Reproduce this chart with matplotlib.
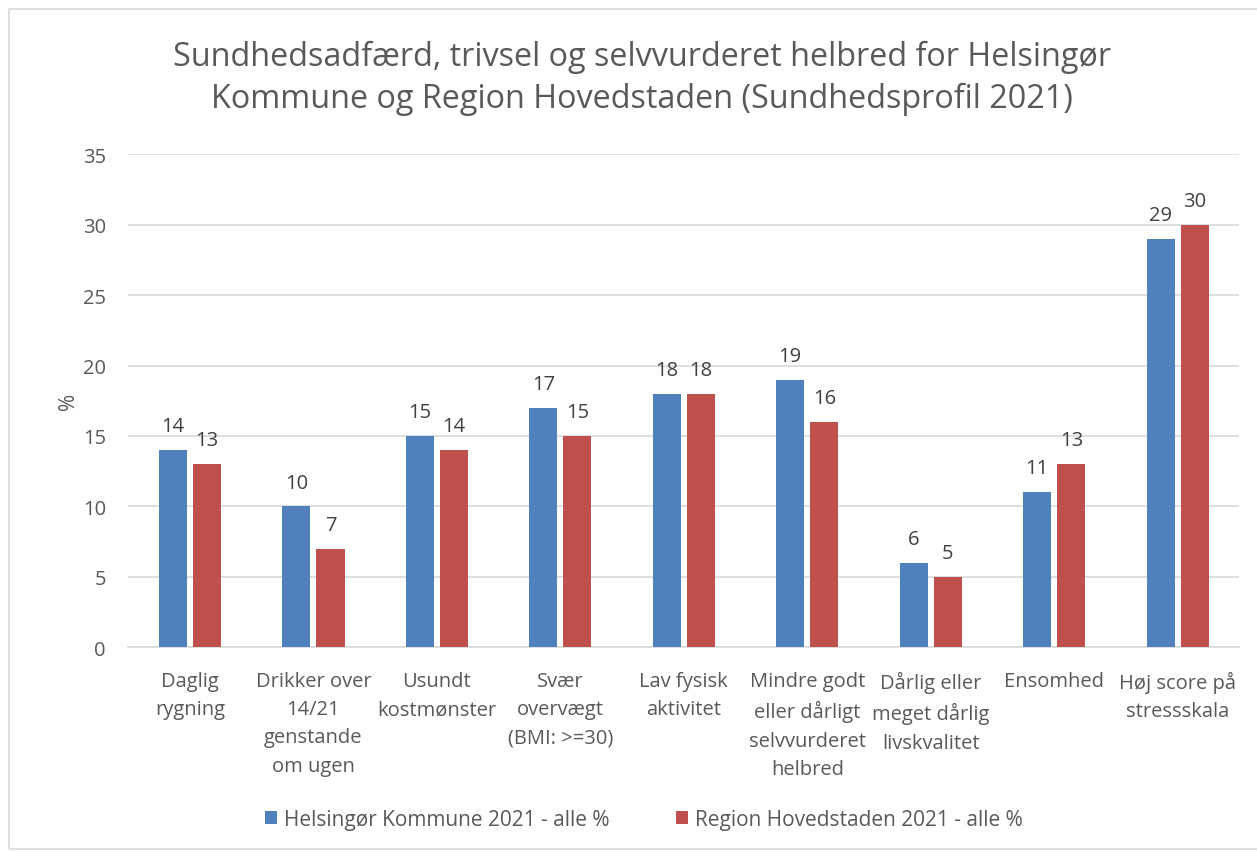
import matplotlib.pyplot as plt
import numpy as np

plt.rcParams['font.family'] = ['Open Sans', 'DejaVu Sans']

categories = ["Daglig\nrygning", "Drikker over\n14/21\ngenstande\nom ugen",
              "Usundt\nkostmønster", "Svær\novervægt\n(BMI: >=30)",
              "Lav fysisk\naktivitet", "Mindre godt\neller dårligt\nselvvurderet\nhelbred",
              "Dårlig eller\nmeget dårlig\nlivskvalitet", "Ensomhed",
              "Høj score på\nstressskala"]
helsingor = [14, 10, 15, 17, 18, 19, 6, 11, 29]
region = [13, 7, 14, 15, 18, 16, 5, 13, 30]
series_names = ["Helsingør Kommune 2021 - alle %", "Region Hovedstaden 2021 - alle %"]

blue = "#4F81BD"
red = "#C0504D"
txt = "#595959"

fig = plt.figure(figsize=(12.57, 8.53), dpi=100)
ax = fig.add_axes([0.102, 0.240, 0.884, 0.578])

# light frame round the chart
fig.patches.append(plt.Rectangle((0.007, 0.003), 1.0, 0.985, transform=fig.transFigure,
                                 fill=False, edgecolor="#D9D9D9", linewidth=1.2))

x = np.arange(len(categories))
w = 0.227
gap = 0.05
b1 = ax.bar(x - (w + gap) / 2, helsingor, w, color=blue, label=series_names[0], zorder=3)
b2 = ax.bar(x + (w + gap) / 2, region, w, color=red, label=series_names[1], zorder=3)
ax.bar_label(b1, padding=10, fontsize=14.5, color="#404040")
ax.bar_label(b2, padding=10, fontsize=14.5, color="#404040")

ax.set_xlim(-0.5, len(categories) - 0.5)
ax.set_ylim(0, 35)
ax.set_yticks(range(0, 36, 5))
ax.yaxis.grid(True, color="#D9D9D9", linewidth=1.2, zorder=0)
ax.set_axisbelow(True)
for s in ["top", "right", "left"]:
    ax.spines[s].set_visible(False)
ax.spines["bottom"].set_color("#D9D9D9")
ax.spines["bottom"].set_linewidth(1.2)
ax.tick_params(axis="both", length=0, labelsize=14.5, labelcolor=txt)
ax.tick_params(axis="y", pad=16)
ax.tick_params(axis="x", pad=17)
ax.set_xticks(x)
ax.set_xticklabels(categories, linespacing=1.55)
ax.set_ylabel("%", fontsize=15, color=txt, labelpad=3)

fig.suptitle("Sundhedsadfærd, trivsel og selvvurderet helbred for Helsingør\n"
             "Kommune og Region Hovedstaden (Sundhedsprofil 2021)",
             x=0.511, y=0.952, fontsize=23.3, color=txt, linespacing=1.35)

fig.legend(loc="center", bbox_to_anchor=(0.512, 0.038), ncol=2, frameon=False,
           fontsize=15, labelcolor=txt, handlelength=0.6, handleheight=0.6,
           handletextpad=0.3, columnspacing=3.2)

fig.savefig("out.png", dpi=100)
